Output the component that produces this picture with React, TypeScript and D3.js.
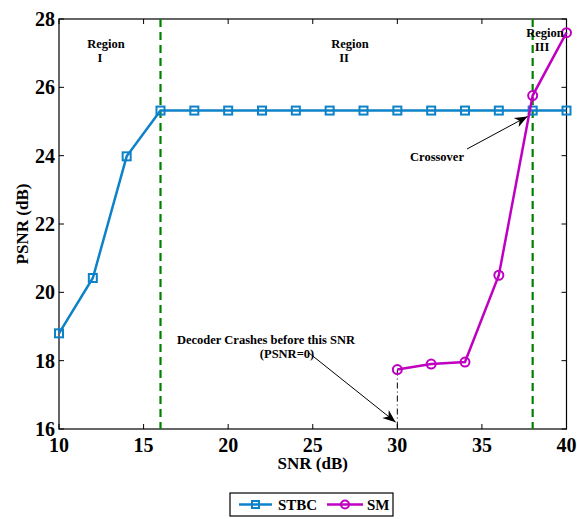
import React, { useEffect, useRef } from 'react';
import * as d3 from 'd3';

const stbcSnr = [10, 12, 14, 16, 18, 20, 22, 24, 26, 28, 30, 32, 34, 36, 38, 40];
const stbcPsnr = [18.8, 20.42, 23.98, 25.32, 25.32, 25.32, 25.32, 25.32, 25.32, 25.32, 25.32, 25.32, 25.32, 25.32, 25.32, 25.32];
const smSnr = [30, 32, 34, 36, 38, 40];
const smPsnr = [17.74, 17.9, 17.96, 20.5, 25.76, 27.6];
const xTicks = [10, 15, 20, 25, 30, 35, 40];
const yTicks = [16, 18, 20, 22, 24, 26, 28];
const regionBounds = [16, 38];

const W = 577;
const H = 519;
const margin = { top: 19, right: 10, bottom: 90, left: 59 };

const App = () => {
    const ref = useRef<SVGSVGElement>(null);

    useEffect(() => {
        const svg = d3.select(ref.current);
        svg.selectAll('*').remove();

        const x = d3.scaleLinear().domain([10, 40]).range([margin.left, 566.5]);
        const y = d3.scaleLinear().domain([16, 28]).range([429, margin.top]);
        const font = 'Liberation Serif, Times New Roman, serif';

        const defs = svg.append('defs');
        defs.append('marker')
            .attr('id', 'arrowhead')
            .attr('viewBox', '0 0 10 10')
            .attr('refX', 10).attr('refY', 5)
            .attr('markerWidth', 13).attr('markerHeight', 13)
            .attr('markerUnits', 'userSpaceOnUse')
            .attr('orient', 'auto')
            .append('path')
            .attr('d', 'M0,1 L10,5 L0,9 L3,5 Z')
            .attr('fill', '#000');

        // frame
        svg.append('rect')
            .attr('x', x(10)).attr('y', y(28))
            .attr('width', x(40) - x(10)).attr('height', y(16) - y(28))
            .attr('fill', 'none').attr('stroke', '#000').attr('stroke-width', 1.2);

        const tickLen = 5;
        xTicks.forEach(t => {
            svg.append('line').attr('x1', x(t)).attr('x2', x(t)).attr('y1', y(16)).attr('y2', y(16) - tickLen).attr('stroke', '#000');
            svg.append('line').attr('x1', x(t)).attr('x2', x(t)).attr('y1', y(28)).attr('y2', y(28) + tickLen).attr('stroke', '#000');
            svg.append('text')
                .attr('x', x(t)).attr('y', y(16) + 23)
                .attr('text-anchor', 'middle')
                .style('font-family', font).style('font-weight', 'bold').style('font-size', '20px')
                .text(t);
        });
        yTicks.forEach(t => {
            svg.append('line').attr('x1', x(10)).attr('x2', x(10) + tickLen).attr('y1', y(t)).attr('y2', y(t)).attr('stroke', '#000');
            svg.append('line').attr('x1', x(40)).attr('x2', x(40) - tickLen).attr('y1', y(t)).attr('y2', y(t)).attr('stroke', '#000');
            svg.append('text')
                .attr('x', x(10) - 4).attr('y', y(t) + 7)
                .attr('text-anchor', 'end')
                .style('font-family', font).style('font-weight', 'bold').style('font-size', '20px')
                .text(t);
        });

        svg.append('text')
            .attr('x', (x(10) + x(40)) / 2).attr('y', 469)
            .attr('text-anchor', 'middle')
            .style('font-family', font).style('font-weight', 'bold').style('font-size', '17px')
            .text('SNR (dB)');
        svg.append('text')
            .attr('transform', `translate(28, ${(y(16) + y(28)) / 2}) rotate(-90)`)
            .attr('text-anchor', 'middle')
            .style('font-family', font).style('font-weight', 'bold').style('font-size', '17px')
            .text('PSNR (dB)');

        // region boundaries
        regionBounds.forEach(b => {
            svg.append('line')
                .attr('x1', x(b)).attr('x2', x(b)).attr('y1', y(28)).attr('y2', y(16))
                .attr('stroke', '#008000').attr('stroke-width', 2.2)
                .attr('stroke-dasharray', '8,5');
        });

        // decoder crash marker
        svg.append('line')
            .attr('x1', x(30)).attr('x2', x(30)).attr('y1', y(smPsnr[0])).attr('y2', y(16))
            .attr('stroke', '#000').attr('stroke-width', 1)
            .attr('stroke-dasharray', '6,3,1,3');

        const line = d3.line<[number, number]>().x(d => x(d[0])).y(d => y(d[1]));
        const stbc: [number, number][] = stbcSnr.map((s, i) => [s, stbcPsnr[i]]);
        const sm: [number, number][] = smSnr.map((s, i) => [s, smPsnr[i]]);
        const blue = '#0E82C8';
        const magenta = '#C000C0';

        svg.append('path').attr('d', line(stbc)).attr('fill', 'none').attr('stroke', blue).attr('stroke-width', 2.5);
        svg.selectAll('.sq').data(stbc).enter().append('rect')
            .attr('x', d => x(d[0]) - 4).attr('y', d => y(d[1]) - 4)
            .attr('width', 8).attr('height', 8)
            .attr('fill', 'none').attr('stroke', blue).attr('stroke-width', 2);

        svg.append('path').attr('d', line(sm)).attr('fill', 'none').attr('stroke', magenta).attr('stroke-width', 2.5);
        svg.selectAll('.ci').data(sm).enter().append('circle')
            .attr('cx', d => x(d[0])).attr('cy', d => y(d[1])).attr('r', 4.5)
            .attr('fill', 'none').attr('stroke', magenta).attr('stroke-width', 2);

        // annotations
        const note = (tx: number, ty: number, s: string, size = 12.5) =>
            svg.append('text').attr('x', tx).attr('y', ty).attr('text-anchor', 'middle')
                .style('font-family', font).style('font-weight', 'bold').style('font-size', `${size}px`)
                .text(s);
        note(106, 48, 'Region');
        note(100, 62, 'I');
        note(350, 48, 'Region');
        note(344, 62, 'II');
        note(545, 37, 'Region');
        note(542, 51, 'III');
        note(437, 161, 'Crossover');
        note(266, 344, 'Decoder Crashes before this SNR');
        note(287, 358, '(PSNR=0)');

        svg.append('line')
            .attr('x1', 467).attr('y1', 149).attr('x2', x(37.7)).attr('y2', y(25.15))
            .attr('stroke', '#000').attr('stroke-width', 1).attr('marker-end', 'url(#arrowhead)');
        svg.append('line')
            .attr('x1', 309).attr('y1', 353).attr('x2', x(29.9)).attr('y2', y(16.2))
            .attr('stroke', '#000').attr('stroke-width', 1).attr('marker-end', 'url(#arrowhead)');

        // legend
        const lg = svg.append('g');
        lg.append('rect').attr('x', 230).attr('y', 493).attr('width', 163).attr('height', 23)
            .attr('fill', '#fff').attr('stroke', '#000').attr('stroke-width', 1.2);
        lg.append('line').attr('x1', 239).attr('x2', 272).attr('y1', 504.5).attr('y2', 504.5).attr('stroke', blue).attr('stroke-width', 2.5);
        lg.append('rect').attr('x', 252).attr('y', 501).attr('width', 7).attr('height', 7).attr('fill', 'none').attr('stroke', blue).attr('stroke-width', 2);
        lg.append('text').attr('x', 278).attr('y', 510).style('font-family', font).style('font-weight', 'bold').style('font-size', '15px').text('STBC');
        lg.append('line').attr('x1', 327).attr('x2', 363).attr('y1', 504.5).attr('y2', 504.5).attr('stroke', magenta).attr('stroke-width', 2.5);
        lg.append('circle').attr('cx', 345).attr('cy', 504.5).attr('r', 4).attr('fill', 'none').attr('stroke', magenta).attr('stroke-width', 2);
        lg.append('text').attr('x', 367).attr('y', 510).style('font-family', font).style('font-weight', 'bold').style('font-size', '15px').text('SM');
    }, []);

    return (
        <svg ref={ref} width={W} height={H} style={{ position: 'absolute', left: 0, top: 0, background: '#fff' }} />
    );
};

export default App;
